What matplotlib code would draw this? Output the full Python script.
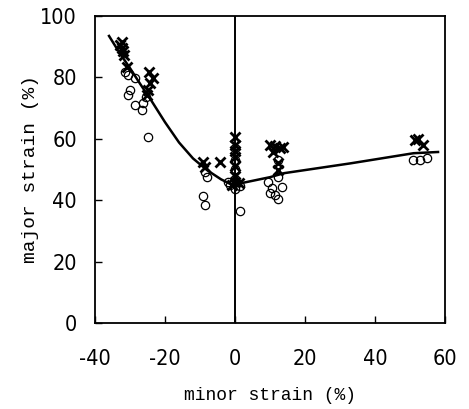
import matplotlib
matplotlib.use("Agg")
import matplotlib.pyplot as plt

cross_x = [-32.3, -32.9, -32.3, -32.0, -31.8, -30.9,
           -24.6, -23.4, -24.3, -24.9, -25.1,
           -9.1, -4.3, -8.6,
           0.0, 0.0, 0.0, 0.0, 0.0, 0.0, 0.0, -1.0, 1.0,
           10.0, 12.9, 10.9, 13.7, 11.5, 12.3, 12.3,
           51.4, 53.7, 52.3]
cross_y = [91.5, 90.5, 89.5, 88.5, 87.3, 83.4,
           81.7, 79.8, 78.2, 75.9, 74.3,
           52.4, 52.4, 50.8,
           60.5, 58.0, 56.0, 54.0, 51.0, 48.0, 46.0, 45.0, 45.5,
           58.0, 57.0, 55.7, 57.3, 57.5, 52.0, 49.8,
           59.6, 58.0, 59.8]

circle_x = [-31.4, -30.6, -28.6, -30.0, -30.6, -28.6, -26.6, -26.3, -25.5, -24.9,
            -8.6, -8.0, -9.1, -8.6,
            0.0, 0.0, 0.0, 0.0, -1.5, 1.5, 0.0, -2.0, 1.4,
            12.3, 12.3, 9.4, 10.6, 10.0, 11.4, 12.3, 13.4,
            50.9, 52.9, 54.9]
circle_y = [81.7, 80.7, 79.8, 75.9, 74.3, 71.0, 69.4, 71.7, 73.5, 60.6,
            49.2, 47.5, 41.5, 38.3,
            57.0, 53.0, 50.0, 47.0, 45.0, 44.5, 43.5, 46.0, 36.5,
            53.0, 47.5, 45.9, 44.0, 42.3, 41.7, 40.3, 44.3,
            53.1, 53.1, 53.7]

# fitted forming limit curve
fit_x = [-36.0, -33.0, -30.0, -27.0, -24.0, -20.0, -16.0, -12.0, -8.0, -4.0, 0.0,
         2.0, 10.0, 14.0, 33.0, 51.0, 58.0]
fit_y = [93.5, 88.0, 83.0, 77.7, 72.6, 65.4, 58.8, 53.6, 49.8, 46.8, 44.5,
         45.6, 47.5, 48.8, 52.0, 55.3, 55.7]

x_ticks = [-40, -20, 0, 20, 40, 60]
y_ticks = [0, 20, 40, 60, 80, 100]

fig = plt.figure(figsize=(4.69, 4.09), dpi=100)
ax = fig.add_axes([0.2026, 0.2103, 0.7463, 0.7506])

ax.axvline(0, color="black", linewidth=1.4, zorder=1)
ax.plot(fit_x, fit_y, color="black", linewidth=1.8, zorder=2)
ax.plot(circle_x, circle_y, linestyle="none", marker="o", markersize=6,
        markerfacecolor="none", markeredgecolor="black", markeredgewidth=0.9, zorder=3)
ax.plot(cross_x, cross_y, linestyle="none", marker="x", markersize=7.5,
        color="black", markeredgewidth=2.0, zorder=4)

ax.set_xlim(-40, 60)
ax.set_ylim(0, 100)
ax.set_xticks(x_ticks)
ax.set_yticks(y_ticks)

ax.set_xticklabels([str(v) for v in x_ticks], family="DejaVu Sans",
                   stretch="condensed", fontsize=15.5)
ax.set_yticklabels([str(v) for v in y_ticks], family="DejaVu Sans",
                   stretch="condensed", fontsize=15.5)
ax.tick_params(axis="x", direction="in", length=5, width=1, pad=19)
ax.tick_params(axis="y", direction="in", length=5, width=1, pad=13)

for sp in ax.spines.values():
    sp.set_linewidth(1.3)

ax.set_xlabel("minor strain (%)", family="Liberation Mono", fontsize=13, labelpad=13)
ax.set_ylabel("major strain (%)", family="Liberation Mono", fontsize=14, labelpad=1)

fig.savefig("out.png", dpi=100)
